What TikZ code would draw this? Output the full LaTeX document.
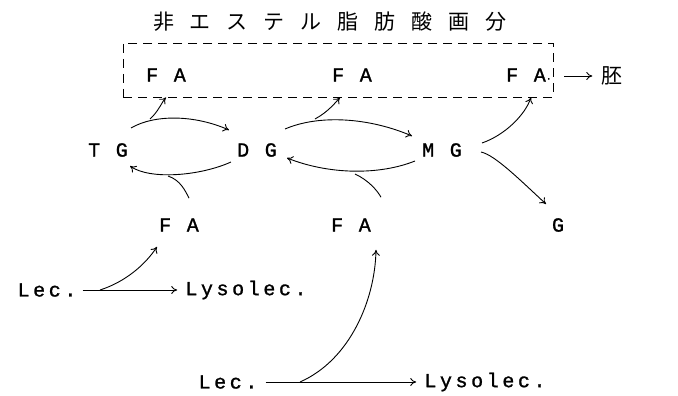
\documentclass[tikz,border=0pt]{standalone}
\usepackage{fontspec}
\newfontfamily\tw[LetterSpace=18,FakeBold=1.2]{Liberation Mono}
\newfontfamily\jp{Noto Sans CJK JP}
\usetikzlibrary{arrows.meta}
\newcommand\jgap{\hskip16pt\relax}
\begin{document}
\begin{tikzpicture}[x=1pt,y=-1pt,
  lbl/.style={font=\tw\fontsize{20}{20}\selectfont, inner sep=0pt},
  jlbl/.style={font=\jp\fontsize{21}{21}\selectfont, inner sep=0pt},
  arr/.style={-{To[length=6pt,width=8pt]}, line width=0.9pt},
  ln/.style={line width=0.9pt},
  dbox/.style={draw, dashed, dash pattern=on 9pt off 6pt, line width=0.9pt,
    minimum width=430pt, minimum height=54pt, inner sep=0pt}]
\useasboundingbox (0,0) rectangle (678,396);
% title and box
\node[jlbl] (title) at (330,22) {非\jgap エ\jgap ス\jgap テ\jgap ル\jgap 脂\jgap 肪\jgap 酸\jgap 画\jgap 分};
\node[dbox] (box) at (338,70) {};
\node[lbl] (fa1) at (166,75) {F A};
\node[lbl] (fa2) at (352,75) {F A};
\node[lbl] (fa3) at (529,75) {F A\raisebox{2pt}{\fontsize{10}{10}\selectfont.}};
\node[jlbl] (emb) at (612,76) {胚};
% middle row
\node[lbl] (tg) at (108,150) {T G};
\node[lbl] (dg) at (257,150) {D G};
\node[lbl] (mg) at (442,150) {M G};
\node[lbl] (fa4) at (179,225) {F A};
\node[lbl] (fa5) at (351,225) {F A};
\node[lbl] (g) at (558,225) {G};
% lecithin rows
\node[lbl] (lec1) at (47,290) {Lec.};
\node[lbl] (lys1) at (246,290) {Lysolec.};
\node[lbl] (lec2) at (228,382) {Lec.};
\node[lbl] (lys2) at (485,382) {Lysolec.};
% join points
\coordinate (j1) at (150,119);
\coordinate (j2) at (168,176);
\coordinate (j3) at (315,119);
\coordinate (j4) at (355,174);
\coordinate (j5) at (100,290);
\coordinate (j6) at (300,382);
% arrows
\draw[arr] (box.east |- emb) ++(11,0) -- ([xshift=-9pt]emb.west);
\draw[arr] ([shift={(3,-22)}]tg.east) .. controls (155,114) and (195,115) .. ([shift={(-8,-20)}]dg.west);
\draw[arr] (j1) .. controls (158,112) and (162,102) .. (fa1.south |- box.south);
\draw[arr] ([shift={(-6,12)}]dg.west) .. controls (200,176) and (150,180) .. ([shift={(2,16)}]tg.east);
\draw[ln] ([shift={(10,-20)}]fa4.north) .. controls (185,190) and (180,180) .. (j2);
\draw[arr] ([shift={(8,-21)}]dg.east) .. controls (320,114) and (370,118) .. ([shift={(-10,-14)}]mg.west);
\draw[arr] (j3) .. controls (328,112) and (336,102) .. ([xshift=-12pt]fa2.south |- box.south);
\draw[arr] ([shift={(-7,11)}]mg.west) .. controls (380,175) and (330,175) .. ([shift={(10,8)}]dg.east);
\draw[ln] ([shift={(30,-21)}]fa5.north) .. controls (377,190) and (368,180) .. (j4);
\draw[arr] ([shift={(20,-7)}]mg.east) .. controls (505,135) and (525,115) .. ([xshift=2pt]fa3.south |- box.south);
\draw[arr] ([shift={(19,2)}]mg.east) .. controls (495,155) and (520,180) .. ([shift={(-12,-14)}]g.north);
\draw[arr] ([xshift=6pt]lec1.east) -- ([xshift=-8pt]lys1.west);
\draw[arr] (j5) .. controls (125,282) and (145,265) .. ([shift={(-22,15)}]fa4.south);
\draw[arr] ([xshift=8pt]lec2.east) -- ([xshift=-8pt]lys2.west);
\draw[arr] (j6) .. controls (350,360) and (375,300) .. ([shift={(25,18)}]fa5.south);
\end{tikzpicture}
\end{document}
